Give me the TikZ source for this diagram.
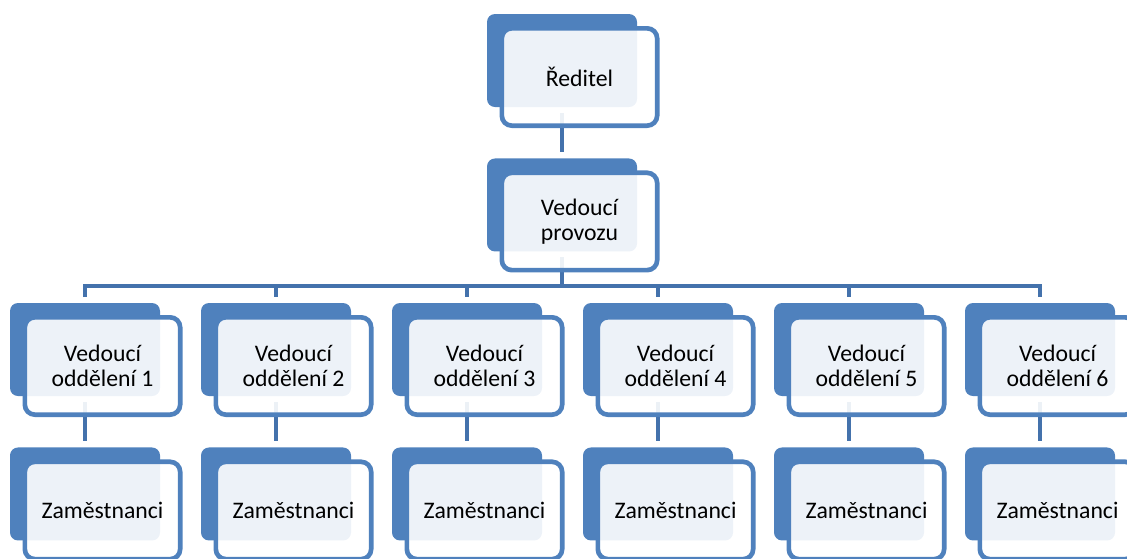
\documentclass[tikz,border=0pt]{standalone}
\usepackage{fontspec}
\setmainfont{Carlito}
\definecolor{ChartBlue}{RGB}{79,129,189}
\definecolor{LinkBlue}{RGB}{68,114,172}
\usetikzlibrary{positioning}

\begin{document}
\begin{tikzpicture}[
        x=0.75pt, y=-0.75pt,
        node distance=38.6pt and 30.75pt,
        backbox/.style={rectangle, fill=ChartBlue, rounded corners=6pt, minimum width=112.5pt, minimum height=69.75pt, inner sep=0pt, outer sep=0pt},
        frontbox/.style={rectangle, draw=ChartBlue, line width=3.5pt, fill=white, fill opacity=0.9, text opacity=1, rounded corners=7.5pt, minimum width=116.5pt, minimum height=73pt, inner sep=0pt, align=center, font=\fontsize{17.8pt}{18.75pt}\selectfont},
        link/.style={draw=LinkBlue, line width=3.3pt, shorten <=4.5pt, shorten >=4.5pt}
    ]
        \useasboundingbox (0,0) rectangle (1127,558);

        % Back boxes
        \node[backbox] (redb) at (562,60.5) {};
        \node[backbox, below=of redb] (provb) {};
        \node[backbox] (odd1b) at (85,349.5) {};
        \node[backbox, right=of odd1b] (odd2b) {};
        \node[backbox, right=of odd2b] (odd3b) {};
        \node[backbox, right=of odd3b] (odd4b) {};
        \node[backbox, right=of odd4b] (odd5b) {};
        \node[backbox, right=of odd5b] (odd6b) {};
        \node[backbox, below=of odd1b] (zam1b) {};
        \node[backbox, below=of odd2b] (zam2b) {};
        \node[backbox, below=of odd3b] (zam3b) {};
        \node[backbox, below=of odd4b] (zam4b) {};
        \node[backbox, below=of odd5b] (zam5b) {};
        \node[backbox, below=of odd6b] (zam6b) {};

        % Connections
        \coordinate (bus) at (562,286);
        \draw[link] (redb) -- (provb);
        \draw[link, shorten >=0pt] (provb) -- (bus);
        \draw[link] (odd1b) |- (bus) -| (odd6b);
        \draw[link, shorten <=0pt] (bus -| odd2b) -- (odd2b);
        \draw[link, shorten <=0pt] (bus -| odd3b) -- (odd3b);
        \draw[link, shorten <=0pt] (bus -| odd4b) -- (odd4b);
        \draw[link, shorten <=0pt] (bus -| odd5b) -- (odd5b);
        \draw[link] (odd1b) -- (zam1b);
        \draw[link] (odd2b) -- (zam2b);
        \draw[link] (odd3b) -- (zam3b);
        \draw[link] (odd4b) -- (zam4b);
        \draw[link] (odd5b) -- (zam5b);
        \draw[link] (odd6b) -- (zam6b);

        % Front boxes
        \node[frontbox] (red) at ([shift={(17.5,16.5)}]redb.center) {Ředitel};
        \node[frontbox] (prov) at ([shift={(17.5,16.5)}]provb.center) {Vedoucí\\provozu};
        \node[frontbox] (odd1) at ([shift={(17.5,16.5)}]odd1b.center) {Vedoucí\\oddělení 1};
        \node[frontbox] (odd2) at ([shift={(17.5,16.5)}]odd2b.center) {Vedoucí\\oddělení 2};
        \node[frontbox] (odd3) at ([shift={(17.5,16.5)}]odd3b.center) {Vedoucí\\oddělení 3};
        \node[frontbox] (odd4) at ([shift={(17.5,16.5)}]odd4b.center) {Vedoucí\\oddělení 4};
        \node[frontbox] (odd5) at ([shift={(17.5,16.5)}]odd5b.center) {Vedoucí\\oddělení 5};
        \node[frontbox] (odd6) at ([shift={(17.5,16.5)}]odd6b.center) {Vedoucí\\oddělení 6};
        \node[frontbox] (zam1) at ([shift={(17.5,16.5)}]zam1b.center) {Zaměstnanci};
        \node[frontbox] (zam2) at ([shift={(17.5,16.5)}]zam2b.center) {Zaměstnanci};
        \node[frontbox] (zam3) at ([shift={(17.5,16.5)}]zam3b.center) {Zaměstnanci};
        \node[frontbox] (zam4) at ([shift={(17.5,16.5)}]zam4b.center) {Zaměstnanci};
        \node[frontbox] (zam5) at ([shift={(17.5,16.5)}]zam5b.center) {Zaměstnanci};
        \node[frontbox] (zam6) at ([shift={(17.5,16.5)}]zam6b.center) {Zaměstnanci};

    \end{tikzpicture}
\end{document}
